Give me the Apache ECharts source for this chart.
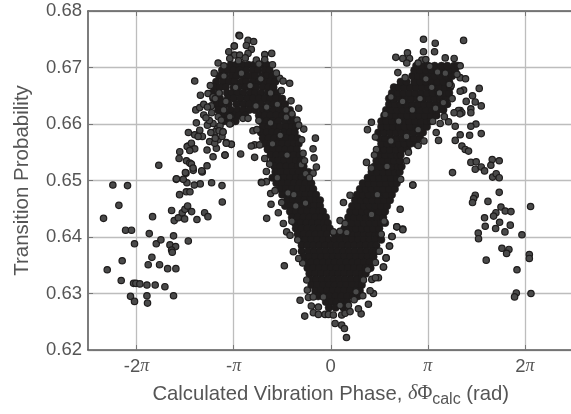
<!DOCTYPE html>
<html><head><meta charset="utf-8">
<style>html,body{margin:0;padding:0;background:#fff}#c{width:571px;height:414px}</style>
<script src="https://cdn.jsdelivr.net/npm/echarts@6/dist/echarts.min.js"></script>
</head><body><div id="c"></div>
<script>
// x values are in units of pi radians; y is transition probability
const yTicks=[0.62,0.63,0.64,0.65,0.66,0.67,0.68];
const piTicks=[-2,-1,0,1,2];
const leftTail=[[-2.244,.6492],[-2.093,.6491],[-2.182,.6456],[-2.34,.6433],[-2.113,.6412],[-2.052,.6412],[-2.021,.6388],[-2.148,.6358],[-2.302,.6342],[-2.158,.6323],[-2.031,.6318],[-2.007,.6318],[-1.966,.6317],[-1.893,.6315],[-1.808,.6315],[-1.708,.6312],[-2.062,.6295],[-2.021,.6286],[-1.893,.6296],[-1.887,.6283],[-1.619,.6296],[-1.88,.6351],[-1.842,.6364],[-1.763,.6351],[-1.68,.6344],[-1.595,.6344],[-1.869,.6406],[-1.835,.6436],[-1.797,.6388],[-1.749,.6395],[-1.619,.6402],[-1.467,.6393],[-1.656,.6386],[-1.598,.6383],[-1.639,.6377],[-1.632,.6373],[-1.639,.6447],[-1.612,.6429],[-1.57,.6434],[-1.529,.6443],[-1.502,.6449],[-1.474,.6455],[-1.433,.6445],[-1.505,.6432],[-1.378,.6431],[-1.299,.6443],[-1.265,.6436],[-1.117,.6462],[-1.12,.6491],[-1.227,.6496],[-1.344,.6494],[-1.405,.6492],[-1.481,.6496],[-1.591,.6502],[-1.519,.6502],[-1.557,.6475],[-1.488,.648],[-1.45,.648],[-1.491,.6513],[-1.416,.6518],[-1.323,.6515]];
const leftRise=[[-1.771,.6527],[-1.401,.6676],[-1.342,.6651],[-1.555,.6551],[-1.562,.6539],[-1.486,.6535],[-1.452,.6531],[-1.435,.6529],[-1.418,.6522],[-1.497,.6514],[-1.329,.6517],[-1.274,.6526],[-1.589,.6503],[-1.469,.6561],[-1.466,.6585],[-1.384,.6602],[-1.39,.6625],[-1.349,.6629],[-1.308,.6616],[-1.308,.6635],[-1.264,.6654],[-1.212,.6648],[-1.226,.662],[-1.401,.6581],[-1.349,.6589],[-1.322,.6578],[-1.366,.6578],[-1.479,.656],[-1.435,.6566],[-1.401,.6556],[-1.452,.6553],[-1.274,.6554],[-1.247,.6569],[-1.178,.6557],[-1.161,.6572],[-1.195,.6566],[-1.212,.6542],[-1.089,.6545],[-1.075,.6567],[-1.024,.6564],[-1.11,.6586],[-1.168,.6592],[-1.192,.6586],[-1.158,.6613],[-1.212,.6601],[-1.14,.6597],[-1.03,.6601],[-1.03,.6613],[-1.103,.6625],[-.993,.6738],[-.945,.6757],[-1.27,.6598],[-1.235,.6585],[-1.25,.6606],[-1.285,.6611],[-1.19,.6575],[-1.15,.6588],[-1.12,.6578],[-1.23,.6632],[-1.27,.663],[-1.19,.6645],[-1.24,.6668],[-1.2,.669],[-1.16,.6708],[-1.1,.6703],[-1.05,.6728]];
const leftHumpEdge=[[-.938,.6756],[-.852,.6748],[-.794,.6746],[-.869,.6739],[-.993,.6738],[-.818,.6732],[-.852,.6725],[-.68,.6723],[-.608,.6725],[-.68,.6714],[-.766,.6713],[-.99,.6722],[-.938,.6722],[-1.04,.6716],[-.526,.6681],[-.491,.6676],[-.423,.6672],[-.509,.6659],[-.409,.6641],[-.33,.6628],[-.457,.6612],[-.347,.6607],[-.278,.6591],[-.158,.6575],[-.182,.6556],[-.172,.654],[-.148,.6524],[-.182,.6513],[-.258,.6512],[-.285,.6548],[-.302,.6528],[-.928,.6547],[-1.089,.6545],[-1.024,.6564],[-1.076,.6566],[-1.11,.6586],[-.801,.6588],[-.784,.6541],[-.68,.6539],[-.629,.6529],[-.663,.6516],[-.715,.6497],[-.663,.6498],[-.784,.6563],[-.732,.6563],[-.818,.6561],[-1.04,.66],[-1.04,.6613],[-.904,.661],[-.852,.661],[-1.127,.6607],[-.56,.669],[-.6,.6705],[-.95,.6712],[-.88,.6717],[-.74,.6706],[-.46,.6625],[-.4,.6618],[-.33,.6598],[-.3,.6572],[-.27,.6535],[-.22,.6505],[-.62,.6602],[-.76,.659],[-.74,.6606]];
const valleyEdge=[[-.66,.6433],[-.615,.6458],[-.505,.6461],[-.711,.6496],[-.619,.6477],[-.574,.6482],[-.54,.6443],[-.488,.6424],[-.454,.6409],[-.419,.6403],[-.385,.6374],[-.478,.6349],[-.289,.6354],[-.247,.6324],[-.241,.6306],[-.23,.6293],[-.316,.6288],[-.268,.626],[-.179,.6266],[-.127,.6263],[-.058,.6263],[-.024,.6263],[.027,.6262],[.113,.6262],[.148,.6265],[.199,.6268],[.313,.6264],[.285,.6273],[.388,.6281],[.241,.6289],[.045,.6247],[.113,.6244],[.141,.6238],[.162,.6222],[.131,.6461],[.845,.6492],[.742,.6414],[.68,.6418],[.629,.6401],[.605,.6384],[.57,.6363],[.543,.6347],[.491,.6328],[.44,.63],[.405,.6305],[.337,.6324],[.423,.6325],[.096,.6429],[.148,.6424],[.027,.6409],[.096,.641],[.165,.6408],[.199,.6474],[-.127,.6276],[-.076,.6294],[.096,.6279],[.182,.6279],[-.18,.6294],[-.2,.6278],[.33,.6296],[.26,.6303],[.46,.6355],[.5,.6375],[.52,.6405],[.46,.6328],[.38,.6342],[.55,.6428],[-.4,.6428],[-.34,.6395],[-.36,.6455],[-.44,.6478],[-.55,.6505],[-.33,.6362]];
const rightUpperEdge=[[.955,.675],[1.076,.6743],[1.368,.6748],[.955,.6728],[1.069,.6728],[.79,.6726],[.67,.6718],[.742,.6716],[.811,.6716],[.783,.6708],[.938,.6713],[.979,.6714],[1.179,.6717],[1.271,.6716],[1.333,.6703],[.691,.6691],[.766,.6682],[1.333,.6682],[1.388,.668],[1.529,.6663],[1.368,.666],[1.333,.6658],[1.46,.665],[1.395,.664],[1.488,.6639],[1.55,.6632],[1.443,.6627],[1.443,.662],[1.333,.6624],[1.315,.6624],[1.35,.662],[1.33,.6618],[1.495,.66],[1.443,.6596],[1.55,.6583],[1.43,.658],[1.333,.6581],[1.213,.6604],[1.282,.6596],[1.127,.6601],[1.086,.6585],[1.11,.6571],[1.282,.6571],[1.351,.6561],[1.385,.6555],[1.419,.6552],[.419,.6603],[.378,.659],[.471,.6555],[.368,.6532],[.419,.6522],[1.25,.6645],[1.27,.662],[1.24,.6668],[1.3,.6688],[.9,.6708],[1.02,.6702],[.62,.6648],[.56,.6617],[.46,.6577],[.45,.6545],[.9,.6562],[.96,.657],[.8,.655],[.78,.6535],[1.05,.6605],[1.17,.6613],[.72,.6502]];
const rightTail=[[1.443,.6532],[1.498,.6533],[1.488,.652],[1.55,.6524],[1.584,.6517],[1.663,.6537],[1.735,.6535],[1.649,.6527],[1.667,.6506],[1.704,.6512],[1.735,.6505],[1.254,.6514],[.845,.6492],[1.735,.6479],[1.488,.6474],[1.471,.6468],[1.46,.6461],[1.619,.6463],[1.753,.6453],[2.058,.6454],[1.797,.6446],[1.856,.6445],[1.701,.6443],[1.677,.6437],[1.584,.6434],[1.739,.6426],[1.591,.6419],[1.849,.6421],[1.698,.6415],[1.794,.6409],[1.969,.6404],[1.519,.6407],[1.522,.6397],[1.763,.638],[1.835,.6378],[1.811,.6371],[2.045,.6369],[2.045,.6362],[1.601,.6359],[1.918,.6342],[1.911,.6301],[1.893,.6294],[2.062,.63],[.742,.6413],[.68,.6418],[.632,.6401],[.605,.6384],[.57,.6363],[.543,.6347],[.715,.6449]];
// lighter-centred points visible on top of the humps
const humpSpeckle=[[-1.1,.6685],[-1.15,.6655],[-1.08,.664],[-.98,.6665],[-.92,.669],[-.83,.6668],[-.72,.668],[-.62,.6655],[-.66,.663],[-.77,.6632],[-.55,.6635],[-.52,.658],[-.6,.6565],[-.45,.6545],[-.38,.6475],[-.26,.646],[.98,.668],[1.1,.6692],[1.18,.669],[1.22,.667],[1.12,.6655],[1.04,.6665],[1.16,.6638],[1.08,.6628],[.92,.6645],[.84,.6625],[.74,.664],[.7,.6605],[.78,.6578],[.9,.659],[.62,.657],[.58,.6525],[.48,.6475],[.42,.644]];
// dense clouds, read row by row: [probability, [phases]]
const leftArmRows=[
[.6705,[-1.03,-.97,-.91,-.85,-.79,-.72,-.66]],
[.6695,[-1.12,-1.06,-1.0,-.94,-.87,-.8,-.75,-.68,-.63]],
[.6685,[-1.15,-1.09,-1.02,-.97,-.9,-.84,-.78,-.71,-.66,-.6]],
[.6675,[-1.18,-1.11,-1.05,-.99,-.92,-.87,-.8,-.74,-.68,-.62,-.57]],
[.6665,[-1.2,-1.14,-1.08,-1.0,-.95,-.88,-.82,-.77,-.7,-.64,-.59]],
[.6655,[-1.22,-1.15,-1.07,-1.02,-.96,-.9,-.83,-.78,-.72,-.65,-.6,-.55]],
[.6645,[-1.21,-1.14,-1.06,-1.0,-.93,-.86,-.8,-.74,-.68,-.62,-.56,-.5]],
[.6635,[-1.18,-1.12,-1.05,-.97,-.9,-.84,-.78,-.72,-.65,-.59,-.53,-.47]],
[.6625,[-1.16,-1.1,-1.03,-.96,-.9,-.84,-.78,-.71,-.65,-.59,-.53,-.47,-.42]],
[.6615,[-1.12,-1.06,-1.0,-.94,-.88,-.74,-.68,-.62,-.56,-.5,-.44,-.4]],
[.6605,[-1.1,-1.04,-.98,-.72,-.66,-.6,-.54,-.47,-.41,-.38]],
[.6595,[-.7,-.64,-.58,-.52,-.46,-.4,-.36]],
[.6585,[-.72,-.66,-.6,-.55,-.48,-.42,-.37]],
[.6575,[-.7,-.64,-.58,-.52,-.46,-.4,-.34]],
[.6565,[-.68,-.62,-.56,-.5,-.44,-.38,-.33]],
[.6555,[-.65,-.59,-.53,-.47,-.41,-.35]],
[.6545,[-.62,-.56,-.5,-.44,-.38,-.32]],
[.6535,[-.6,-.54,-.48,-.42,-.36,-.31]],
[.6525,[-.58,-.52,-.46,-.4,-.34,-.28]],
[.6515,[-.57,-.51,-.45,-.39,-.33,-.27,-.23]],
[.6505,[-.6,-.54,-.48,-.42,-.36,-.3,-.24]],
[.6495,[-.56,-.5,-.44,-.38,-.32,-.26,-.2]],
[.6485,[-.52,-.46,-.4,-.34,-.28,-.22,-.18]],
[.6475,[-.5,-.44,-.38,-.32,-.26,-.2,-.15]],
[.6465,[-.45,-.39,-.33,-.27,-.21,-.15,-.11]],
[.6455,[-.47,-.41,-.35,-.29,-.23,-.17,-.11]],
[.6445,[-.42,-.36,-.3,-.24,-.18,-.12,-.08]],
[.6435,[-.4,-.34,-.28,-.22,-.16,-.1,-.05]],
[.6425,[-.37,-.31,-.25,-.19,-.13,-.07,-.03]],
[.6415,[-.36,-.3,-.24,-.18,-.12,-.06,-.01]]];
const valleyRows=[
[.6405,[-.34,-.28,-.22,-.16,-.1,-.04,.04,.1,.16,.22,.28,.34,.4,.46,.5]],
[.6395,[-.32,-.26,-.2,-.14,-.08,-.02,.04,.1,.16,.22,.28,.34,.4,.46,.52]],
[.6385,[-.3,-.24,-.18,-.12,-.06,0,.06,.12,.18,.24,.3,.36,.42,.47]],
[.6375,[-.3,-.23,-.17,-.11,-.05,.01,.07,.13,.19,.25,.31,.37,.43,.47]],
[.6365,[-.28,-.22,-.16,-.1,-.04,.02,.08,.14,.2,.26,.32,.38,.44]],
[.6355,[-.26,-.2,-.14,-.08,-.02,.04,.1,.16,.22,.28,.34,.4]],
[.6345,[-.24,-.18,-.12,-.06,0,.06,.12,.18,.24,.3,.36,.41]],
[.6335,[-.22,-.16,-.1,-.04,.02,.08,.14,.2,.26,.32,.36]],
[.6325,[-.21,-.15,-.09,-.03,.03,.09,.15,.21,.27,.32]],
[.6315,[-.2,-.14,-.08,-.02,.04,.1,.16,.22,.28,.32]],
[.6305,[-.16,-.1,-.04,.02,.08,.14,.2,.26,.3]],
[.6295,[-.13,-.07,-.01,.05,.11,.17,.23,.28]],
[.6285,[-.05,.01,.06,.12,.17]],
[.6275,[-.02,.05,.13]]];
const rightArmRows=[
[.6415,[.14,.2,.26,.32,.38,.44,.5]],
[.6425,[.16,.22,.28,.34,.4,.46,.52,.56]],
[.6435,[.18,.24,.3,.36,.42,.48,.54]],
[.6445,[.2,.26,.32,.38,.44,.5,.56]],
[.6455,[.22,.28,.34,.4,.46,.52,.58]],
[.6465,[.25,.31,.37,.43,.49,.55,.61]],
[.6475,[.27,.33,.39,.45,.51,.57,.63]],
[.6485,[.3,.36,.42,.48,.54,.6,.66]],
[.6495,[.33,.39,.45,.51,.57,.63,.68]],
[.6505,[.38,.44,.5,.56,.62,.68]],
[.6515,[.42,.48,.54,.6,.66,.71]],
[.6525,[.45,.51,.57,.63,.69,.73]],
[.6535,[.47,.53,.59,.65,.71]],
[.6545,[.5,.56,.62,.68,.72]],
[.6555,[.5,.55,.61,.67,.73,.79]],
[.6565,[.52,.58,.64,.7,.76,.82,.88]],
[.6575,[.5,.56,.62,.68,.74,.8,.86,.92]],
[.6585,[.49,.55,.61,.67,.73,.79,.85,.91,.95]],
[.6595,[.52,.58,.64,.7,.76,.82,.88,.94,.99]],
[.6605,[.52,.57,.63,.69,.75,.81,.87,.93,.99,1.03]],
[.6615,[.55,.61,.67,.73,.79,.85,.91,.97,1.03,1.09]],
[.6625,[.57,.62,.68,.74,.8,.86,.92,.98,1.04,1.1,1.16]],
[.6635,[.6,.66,.72,.78,.84,.9,.96,1.02,1.08,1.14,1.2]],
[.6645,[.6,.65,.71,.77,.83,.89,.95,1.01,1.07,1.13,1.19]],
[.6655,[.63,.69,.75,.81,.87,.93,.99,1.05,1.11,1.17,1.22]],
[.6665,[.65,.7,.76,.82,.88,.94,1.0,1.06,1.12,1.18,1.23]],
[.6675,[.72,.78,.86,.92,.98,1.04,1.1,1.16,1.22]],
[.6685,[.84,.9,.95,1.01,1.07,1.13,1.19,1.25]],
[.6695,[.86,.92,.98,1.04,1.1,1.16,1.22,1.28]],
[.6703,[.88,.94,1.0,1.07,1.14,1.2,1.27,1.31]]];

const sparse=[].concat(leftTail,leftRise,leftHumpEdge,valleyEdge,rightUpperEdge,rightTail,humpSpeckle);
const dense=[];
[leftArmRows,valleyRows,rightArmRows].forEach(t=>t.forEach(r=>r[1].forEach(x=>dense.push([x,r[0]]))));

const txt='#555555', FONT='"Liberation Sans",Arial,sans-serif';
const piRich={p:{fontFamily:'"Liberation Serif",serif',fontStyle:'italic',fontSize:18,color:txt}};
function piLabel(v){
  if(v===0)return '0';
  const a=Math.abs(v);
  return (v<0?'-':'')+(a===1?'':a)+'{p|π}';
}
const chart=echarts.init(document.getElementById('c'),null,{renderer:'canvas'});
const grid={left:88,right:-2.5,top:11,bottom:64,outerBoundsMode:'none'};
const xLine={show:true,lineStyle:{color:'#5c5c5c',width:1.6}};
const split={show:true,lineStyle:{color:'#bdbdbd',width:1.3}};
chart.setOption({
 animation:false,backgroundColor:'#fff',grid,
 xAxis:[{type:'value',min:-2.5,max:2.5,position:'bottom',
   axisLine:{...xLine,onZero:false},axisTick:{show:true,inside:true,length:5,lineStyle:{color:'#777'},customValues:piTicks},
   splitLine:split,
   axisLabel:{color:txt,fontSize:18.5,fontFamily:FONT,margin:7,formatter:piLabel,rich:piRich,customValues:piTicks},
   name:'Calculated Vibration Phase, {d|δ}{f|Φ}{s|calc} (rad)',nameLocation:'middle',nameGap:30,
   nameTextStyle:{color:txt,fontSize:20.3,fontFamily:FONT,rich:{
     d:{fontFamily:'"Liberation Serif",serif',fontStyle:'italic',fontSize:20.3,color:txt},
     f:{fontFamily:'"Liberation Serif",serif',fontSize:20.3,color:txt},
     s:{fontSize:16,fontFamily:FONT,color:txt,padding:[12,0,0,0]}}}},
  {type:'value',min:-2.5,max:2.5,position:'top',
   axisLine:{...xLine,onZero:false},axisTick:{show:true,inside:true,length:5,lineStyle:{color:'#777'},customValues:piTicks},
   axisLabel:{show:false},splitLine:{show:false}}],
 yAxis:[{type:'value',min:yTicks[0],max:yTicks[yTicks.length-1],interval:0.01,
   axisLine:{...xLine,onZero:false},axisTick:{show:true,inside:true,length:5,lineStyle:{color:'#777'}},
   splitLine:split,
   axisLabel:{color:txt,fontSize:18.5,fontFamily:FONT,margin:6,padding:[3,0,0,0],formatter:v=>v.toFixed(2)},
   name:'Transition Probability',nameLocation:'middle',nameGap:55,
   nameTextStyle:{color:txt,fontSize:20.5,fontFamily:FONT}},
  {type:'value',position:'right',min:yTicks[0],max:yTicks[yTicks.length-1],interval:0.01,
   axisLine:{show:false},axisTick:{show:true,inside:true,length:6,lineStyle:{color:'#777'}},
   axisLabel:{show:false},splitLine:{show:false}}],
 series:[
  {type:'scatter',name:'cloud',data:dense,symbolSize:7.5,xAxisIndex:0,yAxisIndex:0,silent:true,
   itemStyle:{opacity:1,color:'#1f1c1c',borderColor:'#1f1c1c',borderWidth:0.5}},
  {type:'scatter',name:'edge',data:sparse,symbolSize:6.4,xAxisIndex:0,yAxisIndex:0,silent:true,
   itemStyle:{opacity:1,color:'#4a4a4a',borderColor:'#1e1c1c',borderWidth:1.2}}]
});
</script></body></html>
